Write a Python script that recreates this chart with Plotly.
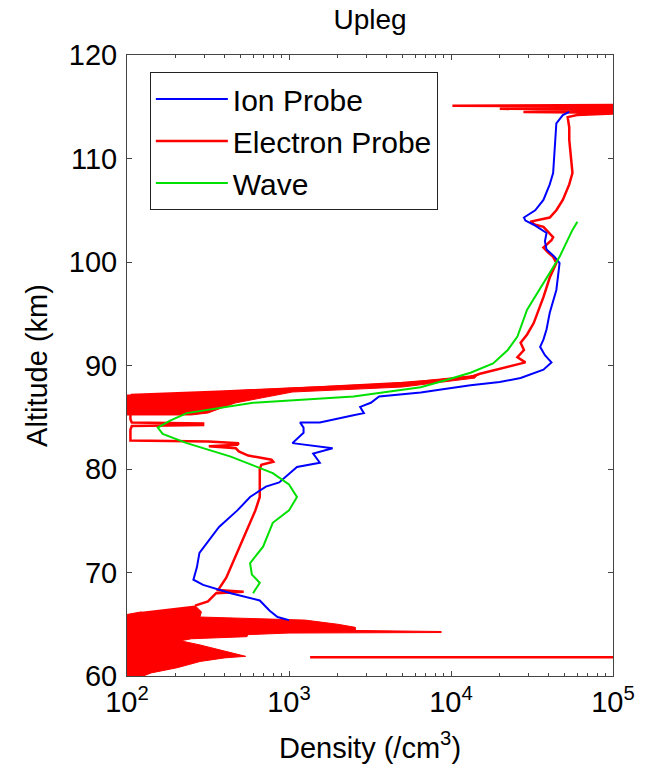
import plotly.graph_objects as go

# ---------------- data (altitude km, density /cm^3) ----------------
ion_alt = [114.5, 114.2, 113.4, 111.0, 108.6, 107.5, 106.0, 105.0, 104.3, 104.0,
           103.6, 102.8, 102.0, 101.2, 100.5, 99.9, 98.5, 97.3, 95.1, 93.5,
           92.5, 91.8, 91.0, 90.3, 89.6, 88.8, 88.4, 88.1, 87.7, 87.4,
           87.0, 86.4, 86.0, 85.4, 85.2, 84.5, 84.5, 84.0, 83.5, 82.5,
           82.0, 81.5, 80.6, 80.2, 78.7, 78.3, 77.3, 76.0, 74.4, 73.0,
           71.9, 70.5, 69.3, 68.8, 68.0, 67.3, 66.3, 65.7, 65.4]
ion_density = [53700, 49000, 44700, 43600, 42700, 40700, 37200, 33100, 28200, 28800,
               32400, 38900, 38000, 38900, 43600, 46800, 45700, 44700, 40700, 38900,
               37200, 35500, 38000, 41700, 37200, 26900, 20000, 13200, 8900, 6500,
               3600, 3200, 2750, 2900, 2500, 1550, 1170, 1230, 1230, 1050,
               1860, 1410, 1550, 1120, 870, 720, 575, 480, 370, 316,
               280, 270, 257, 295, 437, 660, 760, 850, 1000]

wave_alt = [103.9, 103.1, 100.5, 98.0, 95.4, 92.8, 91.5, 90.2, 89.3, 88.5,
            87.9, 87.0, 86.4, 85.4, 84.7, 84.0, 83.4, 82.5, 81.2, 79.6,
            78.5, 77.3, 76.0, 74.8, 72.5, 70.9, 69.8, 69.0, 68.0]
wave_density = [60300, 56200, 46800, 37200, 29500, 25700, 22400, 18200, 13200, 8900,
                6500, 2500, 600, 234, 186, 155, 166, 234, 437, 794,
                1000, 1120, 1000, 794, 692, 575, 590, 660, 600]

# electron probe profile (None separates disjoint pieces)
electron_alt = [115.2, 115.1, 115.0, 114.8, 114.7, 114.5, 114.4, 114.2, 114.0, 113.0,
                111.8, 110.0, 108.6, 107.5, 106.0, 105.0, 104.3, 103.9, 103.6, 103.4,
                102.8, 102.4, 102.1, 101.4, 100.9, 100.5, 99.9, 98.5, 96.6, 95.0,
                94.1, 93.0, 92.2, 91.5, 90.8, 90.3, 89.9, 89.6, 89.2, 88.9,
                88.6, 88.3, 87.9, 87.5, 87.15, 86.5, 85.8, 85.2, 84.8, 84.5,
                84.4, 84.25, 84.15, 83.8, 83.3, 82.9, 82.75, 82.65, 82.5, 82.35,
                82.2, 82.0, 81.7, 81.3, 80.9, 80.7, 80.4, 80.0, 78.5, 77.3,
                76.0, 74.1, 72.5, 71.2, 69.5, 68.3, 68.15, 68.0, 67.2, 66.8,
                None, 61.8, 61.8]
electron_density = [200000, 10200, 200000, 20000, 200000, 28000, 120000, 60000, 52500, 53700,
                    53700, 55000, 56200, 53700, 49000, 44700, 40700, 30900, 33100, 37200,
                    40700, 42700, 41700, 37200, 39800, 42700, 44700, 40700, 37200, 33900,
                    32400, 29500, 26900, 28200, 25700, 28800, 22400, 19100, 15100, 13200,
                    8900, 5000, 1600, 400, 107, 105, 105, 105, 105, 107,
                    295, 295, 107, 105, 105, 105, 105, 320, 490, 480,
                    320, 470, 490, 560, 780, 800, 675, 660, 660, 660,
                    620, 550, 500, 460, 410, 365, 525, 355, 316, 263,
                    None, 1350, 200000]

# dense burst of the electron probe just below 89 km (envelope)
fan_alt = [89.08, 88.31, 87.83, 87.34, 87.15, 87.15, 85.22, 85.22, 85.41, 86.38,
           87.44, 87.92, 88.79]
fan_density = [14800, 5000, 1050, 250, 107, 70, 70, 250, 316, 465,
               1050, 5000, 14100]

# low-altitude burst of the electron probe (envelope)
burst_alt = [66.8, 66.2, 65.7, 65.5, 65.4, 65.0, 64.7, 64.4, 64.3, 64.2,
             64.15, 64.0, 63.8, 63.6, 63.4, 63.0, 62.5, 62.1, 61.9, 61.75,
             61.4, 60.8, 60.3, 60.0, 59.8, 65.5, 66.2]
burst_density = [263, 288, 282, 1000, 1260, 2000, 2570, 2570, 8700, 8700,
                 1000, 560, 550, 250, 214, 282, 380, 480, 540, 400,
                 282, 204, 141, 126, 70, 70, 123]

x_tickvals = [100, 1000, 10000, 100000]
x_ticktext = ["10<sup>2</sup>", "10<sup>3</sup>", "10<sup>4</sup>", "10<sup>5</sup>"]
y_tickvals = [60, 70, 80, 90, 100, 110, 120]

FONT = "Liberation Sans, Arial, sans-serif"
RED = "#ff0000"
fig = go.Figure()

for bx, by in ((burst_density, burst_alt), (fan_density, fan_alt)):
    fig.add_trace(go.Scatter(x=bx, y=by, mode="lines", fill="toself",
                             fillcolor=RED, line=dict(color=RED, width=1),
                             showlegend=False, legendgroup="e", hoverinfo="skip"))
fig.add_trace(go.Scatter(x=electron_density, y=electron_alt, mode="lines",
                         name="Electron Probe", legendgroup="e", legendrank=2,
                         line=dict(color=RED, width=2.5)))
fig.add_trace(go.Scatter(x=ion_density, y=ion_alt, mode="lines", name="Ion Probe",
                         legendrank=1, line=dict(color="#0000ff", width=2)))
fig.add_trace(go.Scatter(x=wave_density, y=wave_alt, mode="lines", name="Wave",
                         legendrank=3, line=dict(color="#00e000", width=2)))

axis_common = dict(showline=True, linecolor="#444", linewidth=1, mirror="ticks",
                   ticks="inside", ticklen=5, tickcolor="#444", showgrid=False,
                   zeroline=False, tickfont=dict(size=29, color="black", family=FONT))

fig.update_xaxes(type="log", range=[2, 5], tickvals=x_tickvals, ticktext=x_ticktext,
                 minor=dict(ticks="inside", dtick="D1", ticklen=3, tickcolor="#444"),
                 title=dict(text="Density (/cm<sup>3</sup>)",
                            font=dict(size=29, color="black", family=FONT), standoff=20),
                 **axis_common)
fig.update_yaxes(range=[60, 120], tickvals=y_tickvals, ticklabelstandoff=3,
                 title=dict(text="Altitude (km)",
                            font=dict(size=29, color="black", family=FONT), standoff=12),
                 **axis_common)

W, H = 654, 775
fig.update_layout(
    width=W, height=H,
    margin=dict(l=127, r=41, t=55, b=99),
    paper_bgcolor="white", plot_bgcolor="white",
    title=dict(text="Upleg", x=0.5, xref="paper", xanchor="center",
               y=1 - 9 / H, yref="container", yanchor="top",
               font=dict(size=28, color="black", family=FONT)),
    legend=dict(x=0.047, y=0.9726, xanchor="left", yanchor="top",
                bgcolor="white", bordercolor="#222", borderwidth=1,
                font=dict(size=30, color="black", family=FONT),
                itemwidth=72, tracegroupgap=0),
    showlegend=True,
)

fig.write_html("out.html", config={"displayModeBar": False},
               post_script="document.body.style.margin='0';")
